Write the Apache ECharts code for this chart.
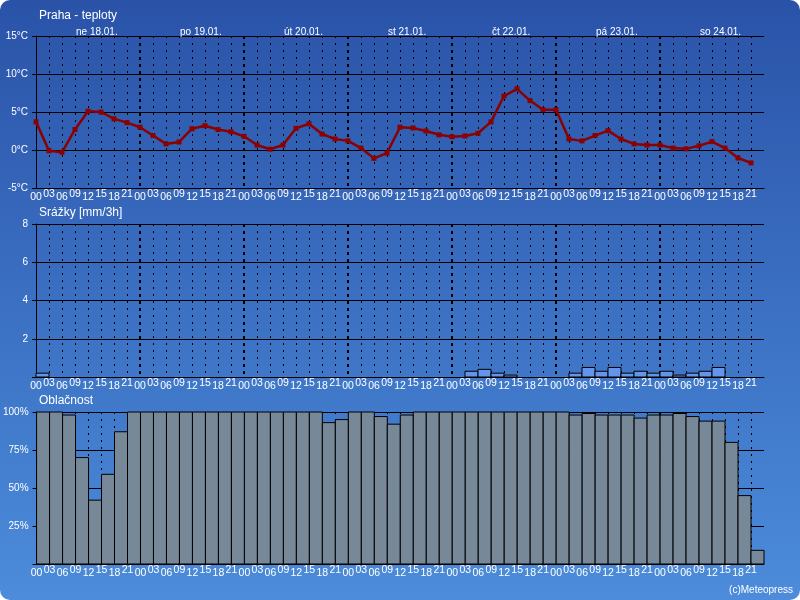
<!DOCTYPE html>
<html><head><meta charset="utf-8">
<script src="https://cdn.jsdelivr.net/npm/echarts@6/dist/echarts.min.js"></script>
<style>html,body{margin:0;padding:0;background:#fff}#c{width:800px;height:600px}</style>
</head><body><div id="c"></div>
<script>
const hourLabels = ['00','03','06','09','12','15','18','21'];
const dayLabels = ['ne 18.01.','po 19.01.','út 20.01.','st 21.01.','čt 22.01.','pá 23.01.','so 24.01.'];
const temperature = [
  3.7, -0.1, -0.3, 2.7, 5.1, 5.0, 4.1, 3.6,
  3.0, 1.9, 0.8, 1.05, 2.8, 3.2, 2.7, 2.4,
  1.8, 0.65, 0.1, 0.65, 2.85, 3.45, 2.1, 1.45,
  1.2, 0.25, -1.1, -0.4, 3.0, 2.9, 2.5, 2.0,
  1.75, 1.85, 2.2, 3.7, 7.1, 8.05, 6.5, 5.3,
  5.3, 1.45, 1.2, 1.9, 2.55, 1.45, 0.8, 0.65,
  0.65, 0.25, 0.15, 0.55, 1.1, 0.25, -1.05, -1.7
];
const precipitation = [
  0.2, 0, 0, 0, 0, 0, 0, 0,
  0, 0, 0, 0, 0, 0, 0, 0,
  0, 0, 0, 0, 0, 0, 0, 0,
  0, 0, 0, 0, 0, 0, 0, 0,
  0, 0.3, 0.4, 0.2, 0.1, 0, 0, 0,
  0, 0.2, 0.5, 0.3, 0.5, 0.2, 0.3, 0.2,
  0.3, 0.1, 0.2, 0.3, 0.5, 0, 0, 0
];
const cloudiness = [
  100, 100, 98, 70, 42, 59, 87, 100,
  100, 100, 100, 100, 100, 100, 100, 100,
  100, 100, 100, 100, 100, 100, 93, 95,
  100, 100, 97, 92, 98, 100, 100, 100,
  100, 100, 100, 100, 100, 100, 100, 100,
  100, 98, 99, 98, 98, 98, 96, 98,
  98, 99, 97, 94, 94, 80, 45, 9
];
const STEP = 3, SPAN = 168;
const FONT = '"Liberation Sans", Arial, sans-serif';

function hourAxis(gridIndex) {
  return {
    type: 'value', gridIndex, min: 0, max: SPAN, interval: STEP, position: 'bottom',
    axisLine: { show: true, onZero: false, lineStyle: { color: '#000', width: 1 } },
    axisTick: { show: false },
    axisLabel: {
      show: true, margin: 1, showMaxLabel: false, color: '#fff', fontFamily: FONT, fontSize: 10.5,
      formatter: v => { const k = Math.round(v / STEP) % 8; return (k % 2 ? '{hi|' : '{lo|') + hourLabels[k] + '}'; },
      rich: {
        lo: { fontSize: 10.5, fontFamily: FONT, color: '#fff', lineHeight: 16 },
        hi: { fontSize: 10.5, fontFamily: FONT, color: '#fff', lineHeight: 10 }
      }
    },
    splitLine: { show: true, showMinLine: false, showMaxLine: false, lineStyle: { color: '#000', width: 1, type: [2, 5] } }
  };
}
function dayAxis(gridIndex, withLabels) {
  return {
    type: 'value', gridIndex, min: 0, max: SPAN, interval: 24, position: 'top',
    axisLine: { show: false, onZero: false }, axisTick: { show: false },
    axisLabel: {
      show: withLabels, showMaxLabel: false, align: 'left', padding: [0, 0, 0, 40], margin: -1,
      color: '#fff', fontFamily: FONT, fontSize: 10,
      formatter: v => dayLabels[Math.round(v / 24)] || ''
    },
    splitLine: { show: true, showMinLine: false, showMaxLine: false, lineStyle: { color: '#000', width: 2, type: [3, 4] } }
  };
}
function valAxis(gridIndex, min, max, interval, fmt) {
  return {
    type: 'value', gridIndex, min, max, interval,
    axisLine: { show: true, onZero: false, lineStyle: { color: '#000' } },
    axisTick: { show: true, length: 4, lineStyle: { color: '#000' } },
    axisLabel: { color: '#fff', fontFamily: FONT, fontSize: 10, margin: 8, formatter: fmt },
    splitLine: { show: true, lineStyle: { color: '#000', width: 1 } }
  };
}
function barSeries(xi, yi, values, fill) {
  return {
    type: 'custom', xAxisIndex: xi, yAxisIndex: yi,
    data: values.map((v, i) => [i * STEP, i * STEP + STEP, v]),
    renderItem: (params, api) => {
      const v = api.value(2);
      if (!v) return null;
      const p0 = api.coord([api.value(0), v]);
      const p1 = api.coord([api.value(1), 0]);
      return { type: 'rect', shape: { x: p0[0], y: p0[1], width: p1[0] - p0[0], height: p1[1] - p0[1] },
        style: { fill: fill, stroke: '#000', lineWidth: 1 } };
    }
  };
}
const titleStyle = { color: '#fff', fontSize: 12, fontWeight: 'normal', fontFamily: FONT };
const chart = echarts.init(document.getElementById('c'));
chart.setOption({
  animation: false,
  graphic: [{
    type: 'rect', z: -10, silent: true,
    shape: { x: 0, y: 0, width: 800, height: 600, r: 10 },
    style: { fill: new echarts.graphic.LinearGradient(0, 0, 0, 1, [
      { offset: 0, color: '#2a53a8' }, { offset: 1, color: '#4c8cdb' }]) }
  }],
  title: [
    { text: 'Praha - teploty', left: 39, top: 10, padding: 0, textStyle: titleStyle },
    { text: 'Srážky [mm/3h]', left: 39, top: 207, padding: 0, textStyle: titleStyle },
    { text: 'Oblačnost', left: 39, top: 395, padding: 0, textStyle: titleStyle },
    { text: '(c)Meteopress', right: 7, top: 585, padding: 0, textStyle: Object.assign({}, titleStyle, { fontSize: 10 }) }
  ],
  grid: [
    { left: 36, top: 36, width: 728, height: 152 },
    { left: 36, top: 224, width: 728, height: 153 },
    { left: 36, top: 412, width: 728, height: 152 }
  ],
  xAxis: [hourAxis(0), dayAxis(0, true), hourAxis(1), dayAxis(1, false), hourAxis(2), dayAxis(2, false)],
  yAxis: [
    valAxis(0, -5, 15, 5, v => v + '°C'),
    valAxis(1, 0, 8, 2, v => v === 0 ? '' : String(v)),
    valAxis(2, 0, 100, 25, v => v === 0 ? '' : v + '%')
  ],
  series: [
    {
      type: 'line', xAxisIndex: 0, yAxisIndex: 0,
      data: temperature.map((t, i) => [i * STEP, t]),
      lineStyle: { color: '#8b0000', width: 2.5 }, itemStyle: { color: '#8b0000' },
      symbol: 'rect', symbolSize: 5, showSymbol: true
    },
    barSeries(2, 1, precipitation, '#6495ed'),
    barSeries(4, 2, cloudiness, '#778899')
  ]
});
</script></body></html>
